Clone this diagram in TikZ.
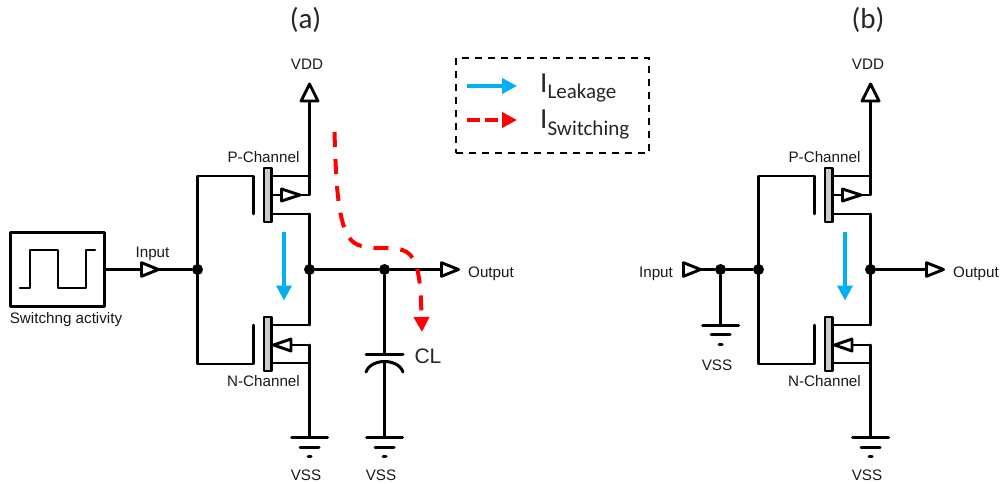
\documentclass[tikz,border=0pt]{standalone}
\usepackage{fontspec}
\setmainfont{Liberation Sans}
\newfontfamily\calib{Carlito}
\usetikzlibrary{arrows.meta}
\definecolor{leakblue}{RGB}{0,176,240}
\tikzset{
  wire/.style={line width=2.6pt,line cap=round,line join=round,black},
  pin/.style={wire,fill=white,line width=2.9pt},
  plate/.style={wire,fill=black!20},
  label/.style={font=\fontsize{15.2}{16}\selectfont,inner sep=0pt,text=black!90},
  dot/.style={circle,fill=black,inner sep=0pt,minimum size=11pt},
  blueflow/.style={leakblue,line width=4pt,-{Triangle[length=15pt,width=15pt]}},
  redflow/.style={red,line width=4pt,dash pattern=on 15pt off 12pt,-{Triangle[length=15pt,width=15pt]}},
  sub/.style={inner sep=0pt,anchor=base west,font=\calib\fontsize{21}{21}\selectfont,text=black!85},
  title/.style={inner sep=0pt,font=\calib\fontsize{29}{29}\selectfont,text=black!85},
}
% ground symbol hanging from a named point
\newcommand{\gndsym}[1]{%
  \draw[wire,line width=3pt] ([xshift=-18pt]#1) -- ([xshift=18pt]#1);
  \draw[wire,line width=3pt] ([xshift=-9.5pt,yshift=-9.5pt]#1) -- ([xshift=9.5pt,yshift=-9.5pt]#1);
  \draw[wire,line width=3pt] ([xshift=-1.5pt,yshift=-19pt]#1) -- ([xshift=1.5pt,yshift=-19pt]#1);
}
% right-pointing pin triangle with its base centre at a named point
\newcommand{\pintri}[1]{%
  \draw[pin] ([xshift=1pt]#1) -- ([xshift=1pt,yshift=6.8pt]#1) -- ([xshift=18pt]#1) -- ([xshift=1pt,yshift=-6.8pt]#1) -- cycle;
}
% inverter; #1 name prefix, #2 x offset
\newcommand{\inverter}[2]{%
\begin{scope}[xshift=#2pt]
  \coordinate (#1in) at (197.5,269.5);
  \coordinate (#1out) at (309.5,269.5);
  \coordinate (#1ptop) at (197.5,176);
  \coordinate (#1pg) at (253.5,176);
  \coordinate (#1pgb) at (253.5,214);
  \coordinate (#1pd) at (309.5,214);
  \coordinate (#1ps) at (309.5,195);
  \coordinate (#1pa) at (309.5,176);
  \coordinate (#1nbot) at (197.5,364);
  \coordinate (#1ng) at (253.5,364);
  \coordinate (#1ngt) at (253.5,325);
  \coordinate (#1nd) at (309.5,325);
  \coordinate (#1ns) at (309.5,345);
  \coordinate (#1nb) at (309.5,363);
  \coordinate (#1gnd) at (309.5,437.5);
  \coordinate (#1vdd) at (309.5,101);
  \node[dot] (#1injn) at (#1in) {};
  \node[dot] (#1outjn) at (#1out) {};
  \node[label] (#1vddl) at (307,64) {VDD};
  \node[label] (#1pl) at (263.5,157) {P-Channel};
  \node[label] (#1nl) at (263.5,381) {N-Channel};
  \node[label] (#1vssl) at (306,475) {VSS};
  % gate wiring
  \draw[wire] (#1pgb) -- (#1pg) -- (#1ptop) -- (#1nbot) -- (#1ng) -- (#1ngt);
  % P device
  \draw[plate] (264,168) rectangle (271.5,222);
  \draw[wire] (272.5,176) -- (#1pa);
  \draw[wire] (272.5,214) -- (#1pd);
  \draw[wire] (#1vdd) -- (#1ps) -- (272.5,195);
  \draw[pin] (281.5,189) -- (300,195) -- (281.5,201) -- cycle;
  \draw[pin] (301,101) -- (309.5,84) -- (318,101) -- cycle;
  % N device
  \draw[plate] (264,317) rectangle (271.5,371);
  \draw[wire] (272.5,325) -- (#1nd);
  \draw[wire] (272.5,363) -- (#1nb);
  \draw[wire] (#1pd) -- (#1nd);
  \draw[wire] (#1ns) -- (291,345);
  \draw[pin] (273.5,345) -- (291,339) -- (291,351) -- cycle;
  \draw[wire] (#1ns) -- (#1gnd);
  \gndsym{#1gnd}
  \draw[blueflow] (284,232) -- (284,300.5);
\end{scope}}

\begin{document}
\begin{tikzpicture}[x=1pt,y=-1pt]
\useasboundingbox (0,0) rectangle (1003,483);
\node[title] (ta) at (305.5,19.5) {(a)};
\node[title] (tb) at (868,19.5) {(b)};

\inverter{a}{0}
\inverter{b}{561}

% (a) input block
\node[draw,wire,line width=3pt,minimum width=94pt,minimum height=74pt,inner sep=0pt] (sw) at (57.5,269.5) {};
\draw[wire] (20,288) -- (30,288) -- (30,250) -- (58,250) -- (58,288) -- (86,288) -- (86,250) -- (95,250);
\node[label] (swl) at (66,319.5) {Switchng activity};
\node[label] (inal) at (152.5,253.5) {Input};
\coordinate (inatri) at (140.5,269.5);
\draw[wire] (sw.east) -- (inatri);
\draw[wire] ([xshift=18pt]inatri) -- (ainjn);
\pintri{inatri}

% (a) output and load
\node[dot] (cjn) at (384.5,269.5) {};
\coordinate (outa) at (440.5,269.5);
\coordinate (cpt) at (384.5,354);
\coordinate (cpb) at (384.5,363);
\coordinate (cgnd) at (384.5,437.5);
\draw[wire] (aoutjn) -- (cjn) -- (outa);
\pintri{outa}
\node[label,anchor=west] (outal) at (468,273.5) {Output};
\draw[wire] (cjn) -- (cpt);
\draw[wire,line width=3pt] (366,354) -- (403,354);
\draw[wire,line width=3pt] (366,372) .. controls (371,358) and (398,358) .. (403,372);
\draw[wire] (cpb) -- (cgnd);
\gndsym{cgnd}
\node[label] (cvss) at (381,475) {VSS};
\node[inner sep=0pt,font=\fontsize{21}{21}\selectfont,text=black!85] (cl) at (428,356) {CL};
\draw[redflow] (334.5,132) .. controls (336,185) and (338,225) .. (351,240)
  .. controls (358,248) and (372,248) .. (385,248)
  .. controls (405,248) and (412,252) .. (417,268)
  .. controls (421,285) and (421,300) .. (422,332);

% (b) input and output
\node[dot] (gjn) at (720.5,269.5) {};
\coordinate (inbtri) at (682.5,269.5);
\coordinate (bgnd) at (720.5,325);
\draw[wire] ([xshift=18pt]inbtri) -- (gjn) -- (binjn);
\pintri{inbtri}
\node[label] (inbl) at (656,273.5) {Input};
\draw[wire] (gjn) -- (bgnd);
\gndsym{bgnd}
\node[label] (bvss) at (717,365) {VSS};
\coordinate (outb) at (925.5,269.5);
\draw[wire] (boutjn) -- (outb);
\pintri{outb}
\node[label,anchor=west] (outbl) at (953,273.5) {Output};

% legend
\node[draw,black,line width=2pt,dash pattern=on 7pt off 6pt,minimum width=193pt,minimum height=95pt,inner sep=0pt] (lg) at (552.5,105.5) {};
\coordinate (l1a) at (467,86);
\coordinate (l1b) at (517,86);
\coordinate (l2a) at (467,120);
\coordinate (l2b) at (517,120);
\draw[blueflow] (l1a) -- (l1b);
\draw[red,line width=4pt,dash pattern=on 13pt off 5pt,-{Triangle[length=15pt,width=15pt]}] (l2a) -- (l2b);
\node[sub] (li) at (540,92) {\fontsize{29}{29}\selectfont I\raisebox{-6pt}{\fontsize{21}{21}\selectfont Leakage}};
\node[sub] (si) at (540,128) {\fontsize{29}{29}\selectfont I\raisebox{-7pt}{\fontsize{21}{21}\selectfont Switching}};
\end{tikzpicture}
\end{document}
